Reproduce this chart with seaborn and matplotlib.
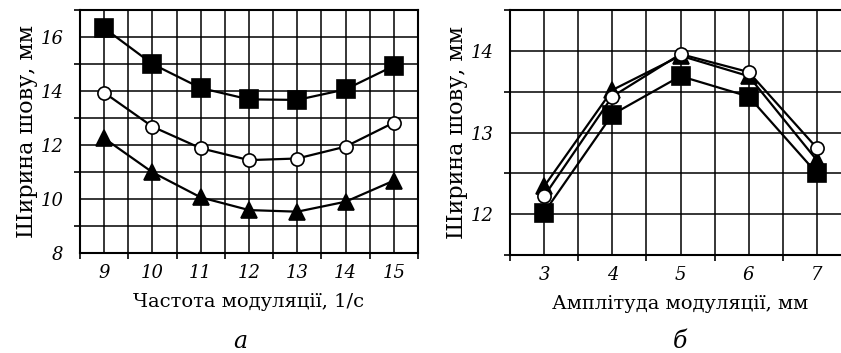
import numpy as np
import pandas as pd
import matplotlib
matplotlib.use("Agg")
import matplotlib.pyplot as plt
import seaborn as sns
from matplotlib.ticker import MultipleLocator

# Панель а: частота модуляції
freq = [9, 10, 11, 12, 13, 14, 15]
freq_sq = [16.33, 15.0, 14.11, 13.69, 13.67, 14.06, 14.93]
freq_ci = [13.94, 12.68, 11.88, 11.44, 11.5, 11.94, 12.83]
freq_tr = [12.25, 10.99, 10.06, 9.59, 9.53, 9.9, 10.68]

# Панель б: амплітуда модуляції
ampl = [3, 4, 5, 6, 7]
ampl_sq = [12.02, 13.22, 13.69, 13.44, 12.5]
ampl_ci = [12.22, 13.44, 13.96, 13.74, 12.81]
ampl_tr = [12.34, 13.52, 13.94, 13.69, 12.66]

sns.set_style("white")
plt.rcParams['font.family'] = ['DejaVu Serif']
for k in ['text.color', 'axes.labelcolor', 'xtick.color', 'ytick.color']:
    plt.rcParams[k] = 'black'

fig = plt.figure(figsize=(8.41, 3.53), dpi=100)
ax1 = fig.add_axes([80/841, 100/353, 338/841, 243/353])
ax2 = fig.add_axes([510/841, 98/353, 341/841, 245/353])

SQ = ('s', 'black', 13)
CI = ('o', 'white', 9.5)
TR = ('^', 'black', 12)


def draw(ax, x, series):
    # series: список (стиль, значення) у порядку малювання
    for (m, fc, ms), y in series:
        df = pd.DataFrame({'x': x, 'y': y})
        sns.lineplot(data=df, x='x', y='y', ax=ax, color='black', lw=1.6,
                     marker=m, markersize=ms, markerfacecolor=fc,
                     markeredgecolor='black', markeredgewidth=1.2, zorder=3)


draw(ax1, freq, [(SQ, freq_sq), (CI, freq_ci), (TR, freq_tr)])
draw(ax2, ampl, [(SQ, ampl_sq), (TR, ampl_tr), (CI, ampl_ci)])

ax1.set_xlim(8.5, 15.5)
ax1.set_ylim(8, 17)
ax1.set_xticks(freq)
ax1.xaxis.set_minor_locator(MultipleLocator(1, offset=0.5))
ax1.yaxis.set_major_locator(MultipleLocator(2))
ax1.yaxis.set_minor_locator(MultipleLocator(1))

ax2.set_xlim(2.5, 7.5)
ax2.set_ylim(11.5, 14.5)
ax2.set_xticks(ampl)
ax2.xaxis.set_minor_locator(MultipleLocator(0.5))
ax2.set_yticks([12, 13, 14])
ax2.yaxis.set_minor_locator(MultipleLocator(0.5))

for ax in (ax1, ax2):
    ax.grid(True, which='both', color='black', lw=1.1)
    ax.tick_params(which='major', length=0, labelsize=13, pad=8)
    ax.tick_params(axis='y', which='major', length=4, width=1.2, direction='out')
    ax.tick_params(which='minor', length=4, width=1.2, direction='out',
                   color='black', bottom=True, left=True)
    for lab in ax.get_xticklabels() + ax.get_yticklabels():
        lab.set_fontstyle('italic')
    for s in ax.spines.values():
        s.set_color('black')
        s.set_linewidth(1.5)
    ax.set_ylabel('Ширина шову, мм', fontsize=16, labelpad=2)
    ax.set_axisbelow(True)

ax1.set_xlabel('Частота модуляції, 1/с', fontsize=14, labelpad=8)
ax2.set_xlabel('Амплітуда модуляції, мм', fontsize=14, labelpad=8)

fig.text(240/841, 1 - 342/353, 'а', fontsize=17, style='italic', ha='center', va='center')
fig.text(680/841, 1 - 342/353, 'б', fontsize=17, style='italic', ha='center', va='center')

fig.savefig('out.png', dpi=100)
